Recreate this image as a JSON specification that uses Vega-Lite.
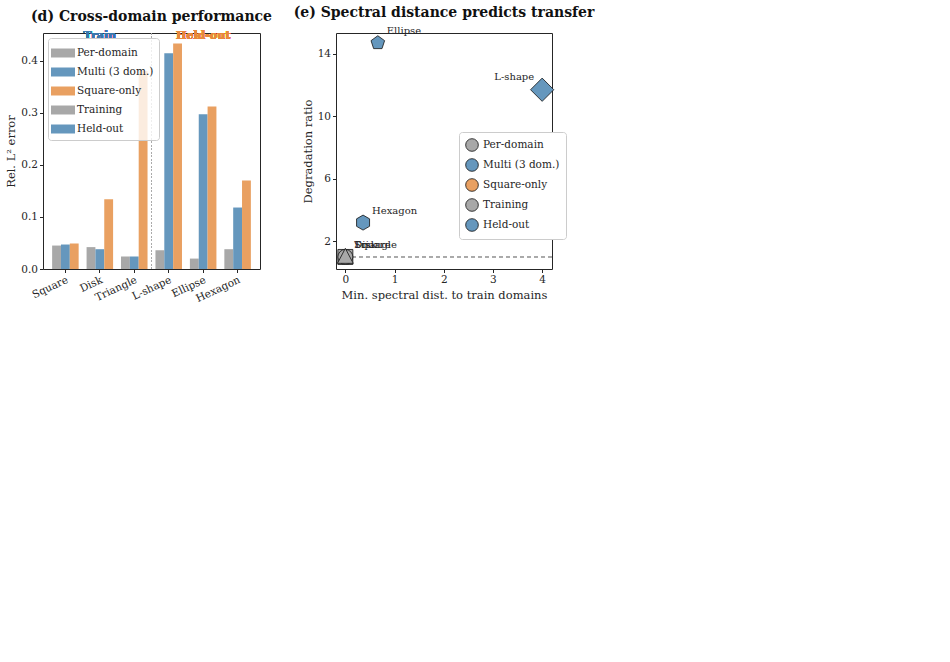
{
"$schema": "https://vega.github.io/schema/vega-lite/v6.json",
"background": "white",
"config": {
  "font": "DejaVu Serif",
  "view": {"stroke": "#262626", "strokeWidth": 1},
  "axis": {"domain": false, "grid": false, "labelFont": "DejaVu Serif", "labelFontSize": 10.5, "labelColor": "#262626", "titleFont": "DejaVu Serif", "titleFontSize": 11.5, "titleFontWeight": "normal", "titleColor": "#262626", "tickColor": "#262626", "tickSize": 3.5, "tickWidth": 1},
  "title": {"font": "DejaVu Serif", "fontSize": 14, "fontWeight": "bold", "color": "#111111", "offset": 6},
  "legend": {"labelFont": "DejaVu Serif", "labelColor": "#262626", "labelFontSize": 10.5}
},
"datasets": {
  "bars": [
    {"domain":"Square","method":"Per-domain","err":0.045},{"domain":"Square","method":"Multi (3 dom.)","err":0.047},{"domain":"Square","method":"Square-only","err":0.049},
    {"domain":"Disk","method":"Per-domain","err":0.042},{"domain":"Disk","method":"Multi (3 dom.)","err":0.038},{"domain":"Disk","method":"Square-only","err":0.134},
    {"domain":"Triangle","method":"Per-domain","err":0.024},{"domain":"Triangle","method":"Multi (3 dom.)","err":0.024},{"domain":"Triangle","method":"Square-only","err":0.38},
    {"domain":"L-shape","method":"Per-domain","err":0.036},{"domain":"L-shape","method":"Multi (3 dom.)","err":0.414},{"domain":"L-shape","method":"Square-only","err":0.433},
    {"domain":"Ellipse","method":"Per-domain","err":0.020},{"domain":"Ellipse","method":"Multi (3 dom.)","err":0.297},{"domain":"Ellipse","method":"Square-only","err":0.312},
    {"domain":"Hexagon","method":"Per-domain","err":0.038},{"domain":"Hexagon","method":"Multi (3 dom.)","err":0.118},{"domain":"Hexagon","method":"Square-only","err":0.170}
  ],
  "transfer": [
    {"domain":"Square","group":"Training","dist":0,"ratio":1.0},
    {"domain":"Disk","group":"Training","dist":0,"ratio":1.0},
    {"domain":"Triangle","group":"Training","dist":0,"ratio":1.0},
    {"domain":"L-shape","group":"Held-out","dist":4.0,"ratio":11.7},
    {"domain":"Ellipse","group":"Held-out","dist":0.66,"ratio":14.7},
    {"domain":"Hexagon","group":"Held-out","dist":0.36,"ratio":3.2}
  ]
},
"hconcat": [
  {
    "width": 217, "height": 236,
    "title": "(d) Cross-domain performance",
    "data": {"name": "bars"},
    "layer": [
      {
        "mark": {"type": "bar"},
        "encoding": {
          "x": {"field": "domain", "type": "nominal", "sort": ["Square","Disk","Triangle","L-shape","Ellipse","Hexagon"], "scale": {"paddingInner": 0, "paddingOuter": 0.15},
            "axis": {"title": null, "labelAngle": -25, "labelAlign": "right", "labelBaseline": "top"}},
          "xOffset": {"field": "method", "type": "nominal", "sort": ["Per-domain","Multi (3 dom.)","Square-only"], "scale": {"paddingInner": 0, "paddingOuter": 0.448}},
          "y": {"field": "err", "type": "quantitative", "scale": {"domain": [0, 0.453], "nice": false}, "axis": {"values": [0, 0.1, 0.2, 0.3, 0.4], "format": ".1f", "title": "Rel. L² error"}},
          "color": {"field": "method", "type": "nominal", "sort": ["Per-domain","Multi (3 dom.)","Square-only"],
            "scale": {"domain": ["Per-domain","Multi (3 dom.)","Square-only"], "range": ["#a8a8a8","#6597bd","#e9a061"]},
            "legend": {"title": null, "orient": "top-left", "offset": 5, "symbolType": "M-1.2,-0.45H1.2V0.45H-1.2Z", "symbolSize": 400, "symbolStrokeWidth": 0, "fillColor": "rgba(255,255,255,0.8)", "strokeColor": "#cccccc", "padding": 5, "cornerRadius": 3, "labelFontSize": 10.5, "rowPadding": 3}}
        }
      },
      {
        "mark": {"type": "rule", "strokeDash": [1.5, 2], "color": "#aaaaaa", "strokeWidth": 1},
        "encoding": {"x": {"datum": "L-shape", "bandPosition": 0}}
      },
      {
        "mark": {"type": "text", "fontWeight": "bold", "fontSize": 11, "color": "#3a78ad", "baseline": "middle"},
        "encoding": {"x": {"datum": "Disk"}, "y": {"datum": 0.448}, "text": {"value": "Train"}}
      },
      {
        "mark": {"type": "text", "fontWeight": "bold", "fontSize": 11, "color": "#e8883c", "baseline": "middle"},
        "encoding": {"x": {"datum": "Ellipse"}, "y": {"datum": 0.448}, "text": {"value": "Held-out"}}
      }
    ]
  },
  {
    "width": 216, "height": 236,
    "title": "(e) Spectral distance predicts transfer",
    "data": {"name": "transfer"},
    "layer": [
      {
        "mark": {"type": "rule", "strokeDash": [4, 3], "color": "#aaaaaa", "strokeWidth": 1},
        "encoding": {"y": {"datum": 1}}
      },
      {
        "mark": {"type": "point", "filled": true, "size": 225, "opacity": 1, "stroke": "#111111", "strokeWidth": 0.8},
        "encoding": {
          "x": {"field": "dist", "type": "quantitative", "scale": {"domain": [-0.19, 4.2], "nice": false, "zero": false}, "axis": {"values": [0,1,2,3,4], "title": "Min. spectral dist. to train domains"}},
          "y": {"field": "ratio", "type": "quantitative", "scale": {"domain": [0.23, 15.33], "nice": false, "zero": false}, "axis": {"values": [2,4,6,8,10,12,14], "title": "Degradation ratio"}},
          "color": {"field": "group", "type": "nominal", "scale": {"domain": ["Training","Held-out"], "range": ["#2e73a6","#e5822c"]},
            "legend": {"title": null, "orient": "none", "legendX": 123, "legendY": 99, "symbolType": "circle", "symbolSize": 160, "symbolStrokeColor": "#111111", "symbolStrokeWidth": 0.8, "fillColor": "white", "strokeColor": "#cccccc", "padding": 6, "cornerRadius": 3, "labelFontSize": 10.5, "rowPadding": 4}},
          "shape": {"field": "domain", "type": "nominal", "scale": {"domain": ["Square","Disk","Triangle","L-shape","Ellipse","Hexagon"],
            "range": ["M-1,-1H1V1H-1Z","circle","M0,-1.15L1.05,0.85H-1.05Z","M0,-1.55L1.55,0L0,1.55L-1.55,0Z","M0,-0.95L0.904,-0.294L0.559,0.769L-0.559,0.769L-0.904,-0.294Z","M0,-1L0.866,-0.5L0.866,0.5L0,1L-0.866,0.5L-0.866,-0.5Z"]}, "legend": null}
        }
      },
      {
        "transform": [{"filter": "datum.domain != 'L-shape'"}],
        "mark": {"type": "text", "align": "left", "baseline": "middle", "dx": 9, "dy": -12, "fontSize": 10, "color": "#262626"},
        "encoding": {"x": {"field": "dist", "type": "quantitative"}, "y": {"field": "ratio", "type": "quantitative"}, "text": {"field": "domain"}}
      },
      {
        "transform": [{"filter": "datum.domain == 'L-shape'"}],
        "mark": {"type": "text", "align": "right", "baseline": "middle", "dx": -8, "dy": -13, "fontSize": 10, "color": "#262626"},
        "encoding": {"x": {"field": "dist", "type": "quantitative"}, "y": {"field": "ratio", "type": "quantitative"}, "text": {"field": "domain"}}
      }
    ]
  }
]
}
